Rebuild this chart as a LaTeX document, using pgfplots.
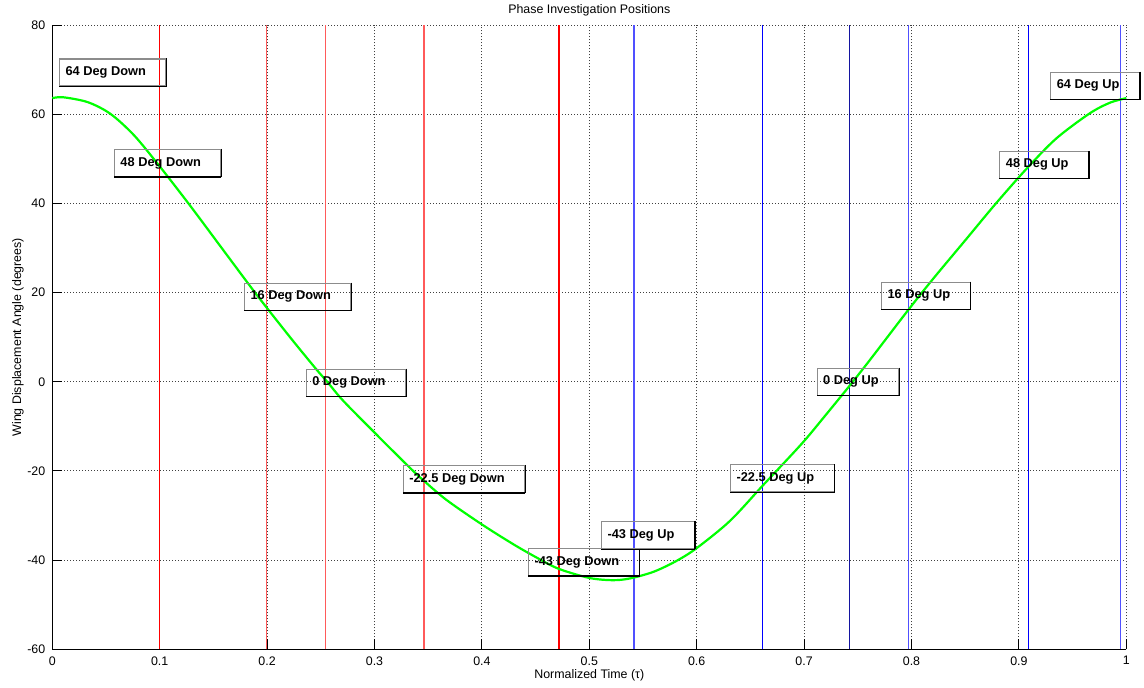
\documentclass[border=0pt]{standalone}
\usepackage{fontspec}
\setmainfont{Liberation Sans}
\usepackage{pgfplots}
\pgfplotsset{compat=1.18}
\definecolor{mgreen}{RGB}{0,255,0}
\definecolor{mred}{RGB}{255,0,0}
\definecolor{lred}{RGB}{255,90,90}
\definecolor{mblue}{RGB}{0,0,255}
\definecolor{lblue}{RGB}{80,80,255}
\definecolor{nblue}{RGB}{20,20,160}
\begin{document}
\begin{tikzpicture}[
  lbl/.style={anchor=west, draw=black!45, line width=0.55pt, inner xsep=3pt, inner ysep=0pt,
    minimum height=13.5pt, font=\bfseries\fontsize{6.4}{7}\selectfont,
    append after command={(\tikzlastnode.north east) edge[draw=black, line width=0.6pt] (\tikzlastnode.south east)
      (\tikzlastnode.south east) edge[draw=black, line width=0.6pt] (\tikzlastnode.south west)}}
]
\begin{axis}[
  at={(0,0)}, anchor=south west,
  width=537pt, height=312.15pt, scale only axis,
  xmin=0, xmax=1, ymin=-60, ymax=80,
  xtick={0,0.1,0.2,0.3,0.4,0.5,0.6,0.7,0.8,0.9,1},
  xticklabels={0,0.1,0.2,0.3,0.4,0.5,0.6,0.7,0.8,0.9,1},
  ytick={-60,-40,-20,0,20,40,60,80},
  yticklabels={-60,-40,-20,0,20,40,60,80},
  axis x line=bottom, axis y line=left,
  axis line style={-, black, line width=0.5pt},
  tick align=inside, major tick length=5pt,
  tick style={black, line width=0.5pt},
  grid=major,
  major grid style={black!75, line width=0.5pt, dash pattern=on 0.5pt off 1pt},
  ticklabel style={font=\fontsize{6.2}{7}\selectfont},
  /pgf/number format/assume math mode=true,
  title={Phase Investigation Positions},
  every axis title/.style={at={(axis description cs:0.5,1)}, anchor=center, yshift=7.4pt, font=\fontsize{6.2}{7}\selectfont},
  xlabel={Normalized Time (τ)},
  every axis x label/.style={at={(axis description cs:0.5,0)}, anchor=center, yshift=-13pt, font=\fontsize{6.2}{7}\selectfont},
  ylabel={Wing Displacement Angle (degrees)},
  every axis y label/.style={at={(axis description cs:0,0.5)}, rotate=90, anchor=center, yshift=17.2pt, font=\fontsize{6.2}{7}\selectfont},
  clip=false,
]
% down positions (red)
\addplot[draw=mred, line width=0.6pt] coordinates {(0.0995,-60) (0.0995,80)};
\addplot[draw=lred, line width=0.6pt] coordinates {(0.1996,-60) (0.1996,80)};
\addplot[draw=lred, line width=0.6pt] coordinates {(0.2545,-60) (0.2545,80)};
\addplot[draw=lred, line width=0.6pt] coordinates {(0.3460,-60) (0.3460,80)};
\addplot[draw=mred, line width=0.6pt] coordinates {(0.4718,-60) (0.4718,80)};
% up positions (blue)
\addplot[draw=lblue, line width=0.6pt] coordinates {(0.5416,-60) (0.5416,80)};
\addplot[draw=mblue, line width=0.6pt] coordinates {(0.6614,-60) (0.6614,80)};
\addplot[draw=nblue, line width=0.6pt] coordinates {(0.7425,-60) (0.7425,80)};
\addplot[draw=lblue, line width=0.6pt] coordinates {(0.7974,-60) (0.7974,80)};
\addplot[draw=mblue, line width=0.6pt] coordinates {(0.9088,-60) (0.9088,80)};
\addplot[draw=lblue, line width=0.6pt] coordinates {(0.9948,-60) (0.9948,80)};
% wing displacement
\addplot[draw=mgreen, line width=1.1pt, smooth] coordinates {
(0,63.6) (0.01,63.8) (0.033,62.7) (0.054,60.1) (0.076,55.3) (0.1,48.3)
(0.128,39.6) (0.154,31.2) (0.184,21.5) (0.2,16.5) (0.224,9.2) (0.2465,2.6)
(0.256,0) (0.271,-4.3) (0.305,-12.6) (0.333,-19.3) (0.345,-22.0) (0.367,-26.5)
(0.4,-32.0) (0.429,-36.4) (0.45,-39.3) (0.471,-41.9) (0.5,-44.0) (0.522,-44.5) (0.538,-44.1)
(0.56,-42.6) (0.581,-40.2) (0.6,-37.3) (0.631,-31.2) (0.661,-23.4) (0.677,-19.3)
(0.7,-13.3) (0.721,-7.2) (0.742,-1.0) (0.761,4.8) (0.796,15.8) (0.8195,22.9)
(0.851,32.0) (0.879,40.1) (0.908,48.0) (0.935,54.6) (0.966,60.2) (0.985,62.6) (1,63.6)
};
\node[lbl] at (axis cs:0.0062,69.35) {64 Deg Down\hspace*{7pt}};
\node[lbl] at (axis cs:0.0574,49.05) {48 Deg Down\hspace*{7pt}};
\node[lbl] at (axis cs:0.1785,19.1) {16 Deg Down\hspace*{7pt}};
\node[lbl] at (axis cs:0.2360,-0.2) {0 Deg Down\hspace*{7pt}};
\node[lbl] at (axis cs:0.3263,-21.8) {-22.5 Deg Down\hspace*{7pt}};
\node[lbl] at (axis cs:0.4429,-40.4) {-43 Deg Down\hspace*{7pt}};
\node[lbl] at (axis cs:0.5109,-34.4) {-43 Deg Up\hspace*{7pt}};
\node[lbl] at (axis cs:0.6310,-21.6) {-22.5 Deg Up\hspace*{7pt}};
\node[lbl] at (axis cs:0.7117,0.0) {0 Deg Up\hspace*{7pt}};
\node[lbl] at (axis cs:0.7716,19.3) {16 Deg Up\hspace*{7pt}};
\node[lbl] at (axis cs:0.8818,48.65) {48 Deg Up\hspace*{7pt}};
\node[lbl] at (axis cs:0.9292,66.4) {64 Deg Up\hspace*{7pt}};
\end{axis}
\pgfresetboundingbox
\path (-26.15pt,-18.85pt) rectangle (545.85pt,324.65pt);
\end{tikzpicture}
\end{document}
